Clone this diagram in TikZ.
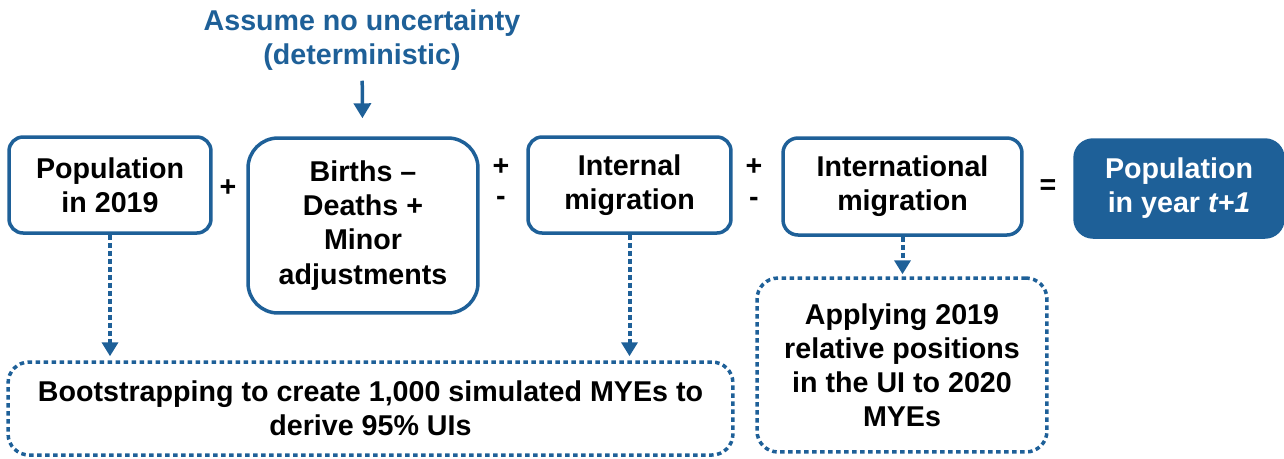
\documentclass[tikz,border=0pt]{standalone}
\usepackage{fontspec}
\setmainfont{Liberation Sans}
\usetikzlibrary{arrows.meta}
\definecolor{myblue}{RGB}{30,96,152}
\tikzset{
  txt/.style={align=center, font=\bfseries\fontsize{16.3}{19.4}\selectfont, inner sep=0pt},
  solidbox/.style={txt, draw=myblue, line width=0.07cm, fill=white},
  filledbox/.style={txt, draw=myblue, fill=myblue, text=white, line width=0.07cm, rounded corners=0.36cm},
  dotbox/.style={txt, draw=myblue, line width=0.07cm, dash pattern=on 0.09cm off 0.07cm, rounded corners=0.42cm},
  sign/.style={font=\bfseries\fontsize{16.3}{19.4}\selectfont, inner sep=0pt},
  dotarrow/.style={draw=myblue, line width=0.08cm, dash pattern=on 0.1cm off 0.06cm, -{Triangle[width=0.32cm,length=0.28cm]}},
  solidarrow/.style={draw=myblue, line width=0.07cm, -{Triangle[width=0.34cm,length=0.3cm]}}
}
\begin{document}
\begin{tikzpicture}[x=0.02cm, y=-0.02cm]
\useasboundingbox (0,0) rectangle (1284,458);

\node[txt, text=myblue] (title) at (362,40) {Assume no uncertainty\\(deterministic)};

\node[solidbox, rounded corners=0.28cm, minimum width=4.04cm, minimum height=1.92cm] (p19) at (110,185) {Population\\in 2019};
\node[solidbox, rounded corners=0.6cm, minimum width=4.6cm, minimum height=3.5cm] (bd) at (363,225.5) {Births --\\Deaths +\\Minor\\adjustments};
\node[solidbox, rounded corners=0.28cm, minimum width=4.06cm, minimum height=1.92cm] (im) at (629.5,185) {Internal\\migration};
\node[solidbox, rounded corners=0.3cm, minimum width=4.78cm, minimum height=1.94cm] (intm) at (902.5,186.5) {International\\migration};
\node[filledbox, minimum width=4.16cm, minimum height=1.94cm] (pt1) at (1179,188.5) {Population\\in year \textit{t+1}};

\node[sign] (s1) at (228,188) {+};
\node[sign] (s2) at (501,167) {+};
\node[sign] (s3) at (501,201) {-};
\node[sign] (s4) at (754,167) {+};
\node[sign] (s5) at (754,202) {-};
\node[sign] (s6) at (1048,187) {=};

\node[dotbox, minimum width=14.5cm, minimum height=1.86cm] (boot) at (370.5,408.5) {Bootstrapping to create 1,000 simulated MYEs to\\derive 95\% UIs};
\node[dotbox, minimum width=5.8cm, minimum height=3.48cm] (apply) at (902,365) {Applying 2019\\relative positions\\in the UI to 2020\\MYEs};

\draw[solidarrow, shorten <=0.2cm, shorten >=0.36cm] (title) -- (bd);
\draw[dotarrow, shorten >=0.08cm] (p19.south) -- (p19.south |- boot.north);
\draw[dotarrow, shorten >=0.08cm] (im.south) -- (im.south |- boot.north);
\draw[dotarrow, shorten >=0.04cm] (intm.south) -- (intm.south |- apply.north);
\end{tikzpicture}
\end{document}
